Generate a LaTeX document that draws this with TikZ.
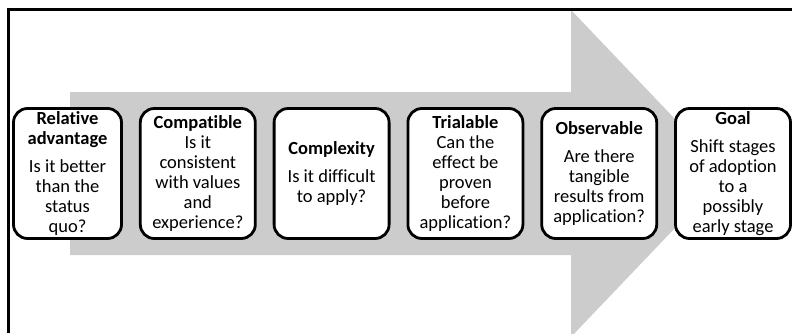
\documentclass[tikz,border=0pt]{standalone}
\usepackage{fontspec}
\setmainfont[Ligatures=NoCommon]{Carlito}
\usepackage{tikz}
\usetikzlibrary{positioning}
\tikzset{stage/.style={draw, line width=2.8pt, rounded corners=14pt, fill=white, align=center, inner sep=0pt,
    minimum width=115pt, minimum height=130pt, font=\fontsize{18.5}{20}\selectfont},
  frame line/.style={line width=3pt}}

\begin{document}
\begin{tikzpicture}[x=1pt, y=1pt, node distance=16pt]
            \clip (0,0) rectangle (792,333);
            \fill[gray!40] (70,78) -- (571,78) -- (571,-4) -- (727,159.5) -- (571,323) -- (571,241) -- (70,241) -- cycle;
            \draw[frame line] (8,0) |- (792,323);
            \node[stage, minimum width=108pt] (relative_advantage) at (67.5,159.5) {\textbf{Relative}\\\textbf{advantage}\\[8pt]Is it better\\than the\\status\\quo?};
            \node[stage, right=of relative_advantage] (compatible) {\textbf{Compatible}\\Is it\\consistent\\with values\\and\\experience?};
            \node[stage, right=of compatible] (complexity) {\textbf{Complexity}\\[8pt]Is it difficult\\to apply?};
            \node[stage, right=of complexity] (trialable) {\textbf{Trialable}\\Can the\\effect be\\proven\\before\\application?};
            \node[stage, right=of trialable] (observable) {\textbf{Observable}\\[8pt]Are there\\tangible\\results from\\application?};
            \node[stage, right=of observable] (goal) {\textbf{Goal}\\[8pt]Shift stages\\of adoption\\to a\\possibly\\early stage};
      \end{tikzpicture}
\end{document}
